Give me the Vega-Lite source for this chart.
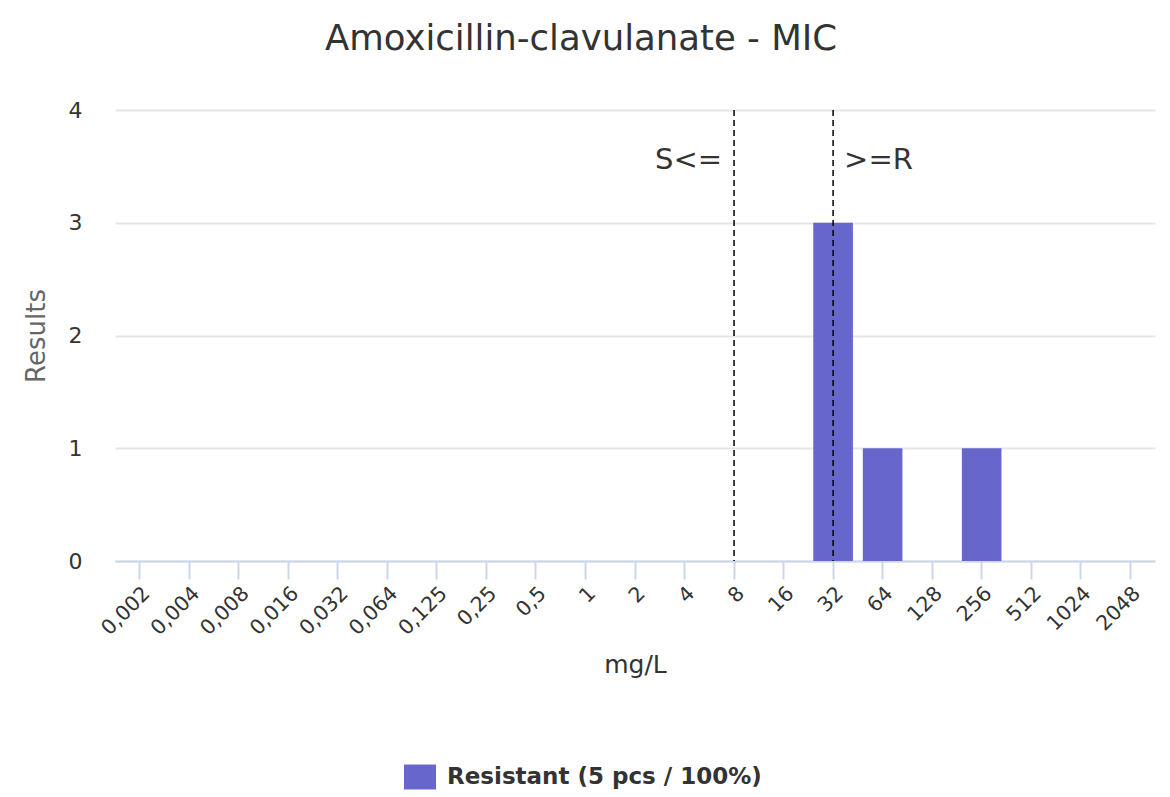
{
  "$schema": "https://vega.github.io/schema/vega-lite/v6.json",
  "width": 1040,
  "height": 451,
  "autosize": {"type": "none"},
  "padding": {"left": 115, "top": 110, "right": 15, "bottom": 236},
  "background": "#ffffff",
  "title": {
    "text": "Amoxicillin-clavulanate - MIC",
    "font": "DejaVu Sans",
    "fontSize": 35.5,
    "fontWeight": "normal",
    "color": "#333333",
    "anchor": "middle",
    "dx": -54,
    "offset": 42
  },
  "datasets": {
    "bars": [
      {"mic": "0,002", "count": 0, "status": "Resistant (5 pcs / 100%)"},
      {"mic": "0,004", "count": 0, "status": "Resistant (5 pcs / 100%)"},
      {"mic": "0,008", "count": 0, "status": "Resistant (5 pcs / 100%)"},
      {"mic": "0,016", "count": 0, "status": "Resistant (5 pcs / 100%)"},
      {"mic": "0,032", "count": 0, "status": "Resistant (5 pcs / 100%)"},
      {"mic": "0,064", "count": 0, "status": "Resistant (5 pcs / 100%)"},
      {"mic": "0,125", "count": 0, "status": "Resistant (5 pcs / 100%)"},
      {"mic": "0,25", "count": 0, "status": "Resistant (5 pcs / 100%)"},
      {"mic": "0,5", "count": 0, "status": "Resistant (5 pcs / 100%)"},
      {"mic": "1", "count": 0, "status": "Resistant (5 pcs / 100%)"},
      {"mic": "2", "count": 0, "status": "Resistant (5 pcs / 100%)"},
      {"mic": "4", "count": 0, "status": "Resistant (5 pcs / 100%)"},
      {"mic": "8", "count": 0, "status": "Resistant (5 pcs / 100%)"},
      {"mic": "16", "count": 0, "status": "Resistant (5 pcs / 100%)"},
      {"mic": "32", "count": 3, "status": "Resistant (5 pcs / 100%)"},
      {"mic": "64", "count": 1, "status": "Resistant (5 pcs / 100%)"},
      {"mic": "128", "count": 0, "status": "Resistant (5 pcs / 100%)"},
      {"mic": "256", "count": 1, "status": "Resistant (5 pcs / 100%)"},
      {"mic": "512", "count": 0, "status": "Resistant (5 pcs / 100%)"},
      {"mic": "1024", "count": 0, "status": "Resistant (5 pcs / 100%)"},
      {"mic": "2048", "count": 0, "status": "Resistant (5 pcs / 100%)"}
    ],
    "thresholds": [
      {"mic": "8", "label": "S<=", "side": "left"},
      {"mic": "32", "label": ">=R", "side": "right"}
    ]
  },
  "config": {
    "view": {"stroke": null},
    "font": "DejaVu Sans"
  },
  "layer": [
    {
      "data": {"name": "bars"},
      "mark": {"type": "bar", "strokeWidth": 0},
      "encoding": {
        "x": {
          "field": "mic",
          "type": "nominal",
          "sort": null,
          "scale": {"paddingInner": 0.2, "paddingOuter": 0.1},
          "axis": {
            "title": "mg/L",
            "titleFont": "DejaVu Sans",
            "titleFontSize": 25,
            "titleFontWeight": "normal",
            "titleColor": "#333333",
            "titlePadding": 14,
            "labelAngle": -45,
            "labelFont": "DejaVu Sans",
            "labelFontSize": 20.5,
            "labelColor": "#333333",
            "labelPadding": 4,
            "domainColor": "#ccd6eb",
            "domainWidth": 2,
            "tickColor": "#ccd6eb",
            "tickWidth": 2,
            "tickSize": 18,
            "grid": false
          }
        },
        "y": {
          "field": "count",
          "type": "quantitative",
          "scale": {"domain": [0, 4]},
          "axis": {
            "title": "Results",
            "titleFont": "DejaVu Sans",
            "titleFontSize": 26,
            "titleFontWeight": "normal",
            "titleColor": "#666666",
            "titlePadding": 19,
            "values": [0, 1, 2, 3, 4],
            "format": "d",
            "labelFont": "DejaVu Sans",
            "labelFontSize": 22,
            "labelColor": "#333333",
            "labelPadding": 33,
            "ticks": false,
            "domain": false,
            "grid": true,
            "gridColor": "#e6e6e6",
            "gridWidth": 2
          }
        },
        "color": {
          "field": "status",
          "type": "nominal",
          "scale": {"range": ["#6666cc"]},
          "legend": {
            "title": null,
            "orient": "none",
            "legendX": 289,
            "legendY": 651,
            "symbolType": "M-1,-0.78H1V0.78H-1Z",
            "symbolSize": 1024,
            "symbolStrokeWidth": 0,
            "labelFont": "DejaVu Sans",
            "labelFontSize": 23,
            "labelFontWeight": "bold",
            "labelColor": "#333333",
            "labelOffset": 11,
            "labelLimit": 600
          }
        }
      }
    },
    {
      "data": {"name": "thresholds"},
      "mark": {"type": "rule", "color": "#000000", "strokeWidth": 1.5, "strokeDash": [6, 4]},
      "encoding": {
        "x": {"field": "mic", "type": "nominal", "sort": null}
      }
    },
    {
      "data": {"name": "thresholds"},
      "transform": [{"filter": "datum.side === 'left'"}],
      "mark": {"type": "text", "align": "right", "baseline": "middle", "dx": -12, "fontSize": 29, "font": "DejaVu Sans", "color": "#333333"},
      "encoding": {
        "x": {"field": "mic", "type": "nominal", "sort": null},
        "y": {"datum": 3.557, "type": "quantitative"},
        "text": {"field": "label"}
      }
    },
    {
      "data": {"name": "thresholds"},
      "transform": [{"filter": "datum.side === 'right'"}],
      "mark": {"type": "text", "align": "left", "baseline": "middle", "dx": 11, "fontSize": 29, "font": "DejaVu Sans", "color": "#333333"},
      "encoding": {
        "x": {"field": "mic", "type": "nominal", "sort": null},
        "y": {"datum": 3.557, "type": "quantitative"},
        "text": {"field": "label"}
      }
    }
  ]
}
